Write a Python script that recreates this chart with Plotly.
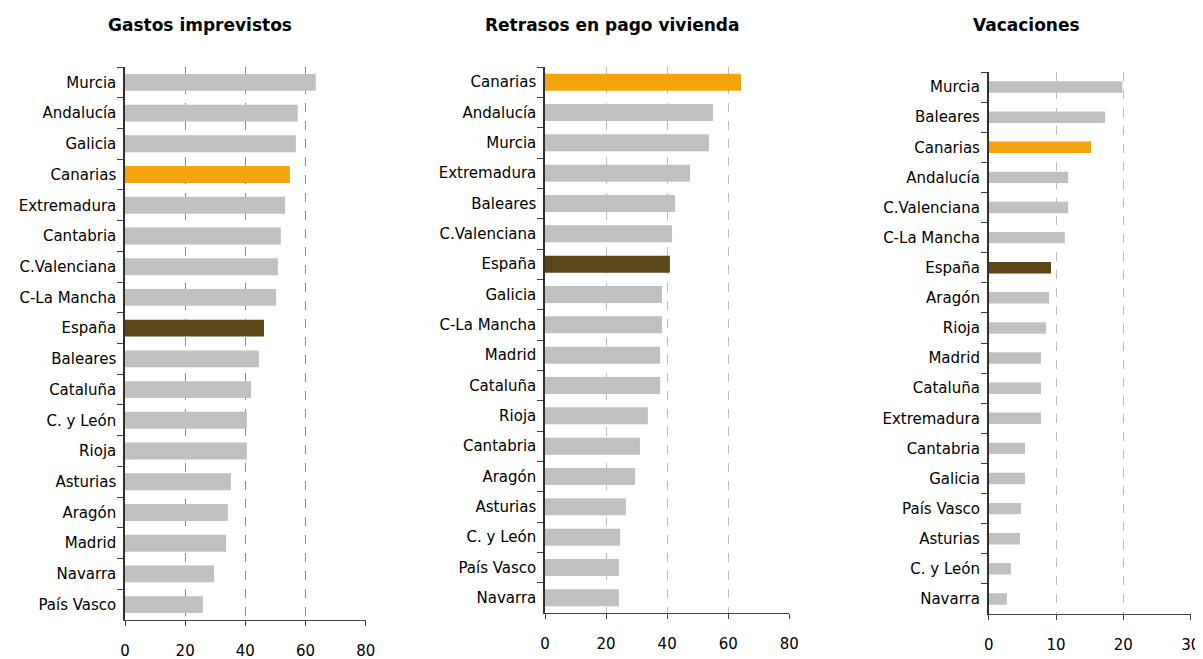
import plotly.graph_objects as go

# ---- data ----
gastos_cats = ["Murcia", "Andalucía", "Galicia", "Canarias", "Extremadura", "Cantabria",
               "C.Valenciana", "C-La Mancha", "España", "Baleares", "Cataluña", "C. y León",
               "Rioja", "Asturias", "Aragón", "Madrid", "Navarra", "País Vasco"]
gastos_vals = [63.4, 57.4, 56.8, 54.8, 53.2, 51.8, 50.8, 50.2, 46.2, 44.5, 41.9, 40.5,
               40.5, 35.2, 34.2, 33.6, 29.6, 25.9]

retrasos_cats = ["Canarias", "Andalucía", "Murcia", "Extremadura", "Baleares", "C.Valenciana",
                 "España", "Galicia", "C-La Mancha", "Madrid", "Cataluña", "Rioja", "Cantabria",
                 "Aragón", "Asturias", "C. y León", "País Vasco", "Navarra"]
retrasos_vals = [64.2, 55.0, 53.7, 47.5, 42.6, 41.6, 40.9, 38.3, 38.3, 37.7, 37.7, 33.7, 31.1,
                 29.5, 26.5, 24.6, 24.2, 24.2]

vacaciones_cats = ["Murcia", "Baleares", "Canarias", "Andalucía", "C.Valenciana", "C-La Mancha",
                   "España", "Aragón", "Rioja", "Madrid", "Cataluña", "Extremadura", "Cantabria",
                   "Galicia", "País Vasco", "Asturias", "C. y León", "Navarra"]
vacaciones_vals = [19.85, 17.3, 15.2, 11.8, 11.8, 11.3, 9.25, 8.96, 8.5, 7.76, 7.76, 7.76, 5.4,
                   5.4, 4.8, 4.65, 3.3, 2.7]

titles = ["Gastos imprevistos", "Retrasos en pago vivienda", "Vacaciones"]
x_ticks = [[0, 20, 40, 60, 80], [0, 20, 40, 60, 80], [0, 10, 20, 30]]
x_ranges = [[0, 80], [0, 80], [0, 30]]

GRAY = "#C0C0C0"
ORANGE = "#F5A40F"
BROWN = "#5C4516"
FONT = "DejaVu Sans"
GRID_COLORS = ["#8C8C8C", "#BDBDBD", "#BDBDBD"]


def colors_for(cats):
    out = []
    for c in cats:
        if c == "Canarias":
            out.append(ORANGE)
        elif c == "España":
            out.append(BROWN)
        else:
            out.append(GRAY)
    return out


# the page body adds an 8px margin; lay out in screen pixels and compensate
OFF = 8
W, H = 1203 - OFF, 659 - OFF
panels = [
    (gastos_cats, gastos_vals, (125, 365.7), (67, 620), 0.45, 200),
    (retrasos_cats, retrasos_vals, (545, 789.3), (67, 613), 0.44, 612),
    (vacaciones_cats, vacaciones_vals, (988.7, 1190.7), (72, 614), 0.62, 1026),
]

fig = go.Figure()
for i, (cats, vals, (x0, x1), (ytop, ybot), gap, tcx) in enumerate(panels):
    n = "" if i == 0 else str(i + 1)
    x0, x1, ytop, ybot, tcx = x0 - OFF, x1 - OFF, ytop - OFF, ybot - OFF, tcx - OFF
    fig.add_trace(go.Bar(
        x=vals, y=cats, orientation="h", width=1 - gap,
        marker=dict(color=colors_for(cats), line=dict(width=0)),
        xaxis="x" + n, yaxis="y" + n, showlegend=False,
    ))
    fig.layout["xaxis" + n] = dict(
        domain=[x0 / W, x1 / W], anchor="y" + n, range=x_ranges[i],
        tickvals=x_ticks[i], ticks="outside", ticklen=5, tickcolor="#404040",
        showline=True, linecolor="#404040", linewidth=1.2,
        showgrid=True, gridcolor=GRID_COLORS[i], griddash="dash", gridwidth=1,
        zeroline=False, tickfont=dict(family=FONT, size=15, color="black"),
        ticklabelstandoff=12, fixedrange=True, automargin=False,
    )
    fig.layout["yaxis" + n] = dict(
        domain=[(H - ybot) / H, (H - ytop) / H], anchor="x" + n,
        type="category", categoryorder="array", categoryarray=cats,
        autorange="reversed", tickson="boundaries", ticks="outside", ticklen=6,
        tickcolor="#404040", showline=True, linecolor="#303030", linewidth=1.5,
        showgrid=False, tickfont=dict(family=FONT, size=15, color="black"),
        ticklabelstandoff=4, fixedrange=True, automargin=False,
    )
    fig.add_annotation(
        x=tcx / W, y=1 - (25 - OFF) / H, xref="paper", yref="paper",
        text="<b>" + titles[i] + "</b>", showarrow=False,
        font=dict(family=FONT, size=17, color="black"),
        xanchor="center", yanchor="middle",
    )

fig.update_layout(
    width=W, height=H, margin=dict(l=0, r=0, t=0, b=0),
    paper_bgcolor="white", plot_bgcolor="white",
)

fig.write_html("out.html")
